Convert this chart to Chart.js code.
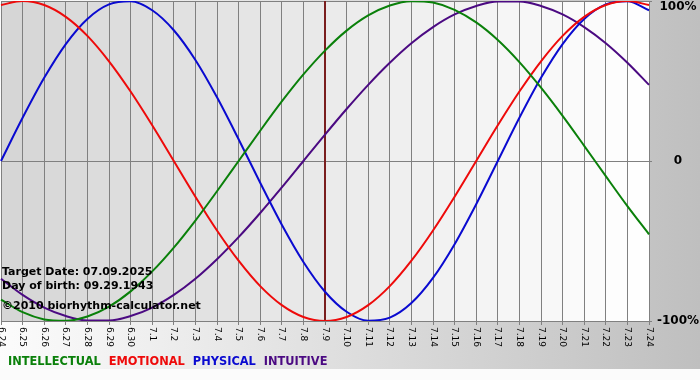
<!DOCTYPE html>
<html>
<head>
<meta charset="utf-8">
<script src="https://cdn.jsdelivr.net/npm/chart.js@4"></script>
<style>
  html, body { margin: 0; padding: 0; background: #fff; }
  canvas { display: block; }
</style>
</head>
<body>
<canvas id="bio" width="700" height="380"></canvas>
<script>
const days = ['6.24', '6.25', '6.26', '6.27', '6.28', '6.29', '6.30',
  '7.1', '7.2', '7.3', '7.4', '7.5', '7.6', '7.7', '7.8', '7.9', '7.10', '7.11', '7.12',
  '7.13', '7.14', '7.15', '7.16', '7.17', '7.18', '7.19', '7.20', '7.21', '7.22', '7.23', '7.24'];
const intellectual = [-86.6, -94.5, -99.0, -99.9, -97.2, -91.0, -81.5, -69.0, -54.1, -37.2, -18.9, 0,
  18.9, 37.2, 54.1, 69.0, 81.5, 91.0, 97.2, 99.9, 99.0, 94.5, 86.6, 75.6, 61.8, 45.8, 28.2, 9.5, -9.5, -28.2, -45.8];
const emotional = [97.5, 100, 97.5, 90.1, 78.2, 62.3, 43.4, 22.3, 0, -22.3, -43.4, -62.3, -78.2, -90.1, -97.5, -100,
  -97.5, -90.1, -78.2, -62.3, -43.4, -22.3, 0, 22.3, 43.4, 62.3, 78.2, 90.1, 97.5, 100, 97.5];
const physical = [0, 27, 52, 73.1, 88.8, 97.9, 99.8, 94.2, 81.7, 63.1, 39.8, 13.6, -13.6, -39.8, -63.1, -81.7,
  -94.2, -99.8, -97.9, -88.8, -73.1, -52, -27, 0, 27, 52, 73.1, 88.8, 97.9, 99.8, 94.2];
const intuitive = [-73.6, -83.7, -91.6, -96.9, -99.7, -99.7, -96.9, -91.6, -83.7, -73.6, -61.4, -47.6, -32.5, -16.5, 0,
  16.5, 32.5, 47.6, 61.4, 73.6, 83.7, 91.6, 96.9, 99.7, 99.7, 96.9, 91.6, 83.7, 73.6, 61.4, 47.6];
const yTicks = [100, 0, -100];
const yTickLabels = ['100%', '0', '-100%'];
const targetDay = '7.9';
const infoLines = ['Target Date: 07.09.2025', 'Day of birth: 09.29.1943', '\u00A92010 biorhythm-calculator.net'];

const FONT = '"DejaVu Sans", Verdana, sans-serif';

// background, shaded day columns and the target-day line
const backdrop = {
  id: 'backdrop',
  beforeDraw(chart) {
    const { ctx, chartArea: a, scales: { x } } = chart;
    ctx.save();
    const g = ctx.createLinearGradient(0, 0, chart.width, 0);
    g.addColorStop(0, '#fcfcfc');
    g.addColorStop(1, '#bfbfbf');
    ctx.fillStyle = g;
    ctx.fillRect(0, 0, chart.width, 369);
    ctx.fillStyle = '#fbfbfb';
    ctx.fillRect(0, 369, chart.width, chart.height - 369);
    const n = days.length - 1;
    for (let i = 0; i < n; i++) {
      const x0 = x.getPixelForValue(i), x1 = x.getPixelForValue(i + 1);
      const v = Math.round(214 + 40 * i / (n - 1));
      ctx.fillStyle = `rgb(${v},${v},${v})`;
      ctx.fillRect(x0, a.top, x1 - x0 + 0.5, a.bottom - a.top);
    }
    ctx.restore();
  },
  beforeDatasetsDraw(chart) {
    const { ctx, chartArea: a, scales: { x } } = chart;
    const tx = x.getPixelForValue(days.indexOf(targetDay));
    ctx.save();
    ctx.strokeStyle = '#7a1e1e';
    ctx.lineWidth = 2;
    ctx.beginPath();
    ctx.moveTo(tx, a.top);
    ctx.lineTo(tx, a.bottom);
    ctx.stroke();
    ctx.restore();
  }
};

// rotated day labels, right-hand percent labels, info text and legend
const labels = {
  id: 'labels',
  afterDraw(chart) {
    const { ctx, chartArea: a, scales: { x, y } } = chart;
    ctx.save();
    ctx.fillStyle = '#000';
    ctx.font = '9px ' + FONT;
    ctx.textAlign = 'left';
    ctx.textBaseline = 'middle';
    days.forEach((d, i) => {
      ctx.save();
      ctx.translate(x.getPixelForValue(i), a.bottom + 6);
      ctx.rotate(Math.PI / 2);
      ctx.fillText(d, 0, 0);
      ctx.restore();
    });

    ctx.font = 'bold 12px ' + FONT;
    ctx.textAlign = 'center';
    yTicks.forEach((t, i) => {
      const py = Math.max(y.getPixelForValue(t), 7);
      ctx.fillText(yTickLabels[i], a.right + 29, py);
    });

    ctx.font = 'bold 11px ' + FONT;
    ctx.textAlign = 'left';
    ctx.fillText(infoLines[0], 2, a.bottom - 49);
    ctx.fillText(infoLines[1], 2, a.bottom - 35);
    ctx.fillText(infoLines[2], 2, a.bottom - 15);

    ctx.font = 'bold 11.4px ' + FONT;
    let lx = 8;
    chart.data.datasets.forEach(ds => {
      const name = ds.label.toUpperCase();
      ctx.fillStyle = ds.borderColor;
      ctx.fillText(name, lx, 362);
      lx += ctx.measureText(name).width + 8;
    });
    ctx.restore();
  }
};

const ctx = document.getElementById('bio');
const bioChart = new Chart(ctx, {
  type: 'line',
  data: {
    labels: days,
    datasets: [
      { label: 'Intellectual', data: intellectual, borderColor: '#0a800a' },
      { label: 'Emotional', data: emotional, borderColor: '#ee0a0a' },
      { label: 'Physical', data: physical, borderColor: '#0a0ad0' },
      { label: 'Intuitive', data: intuitive, borderColor: '#4b0a82' }
    ]
  },
  options: {
    responsive: false,
    animation: false,
    layout: { padding: { left: 1, top: 1, right: 0, bottom: 0 } },
    elements: {
      point: { radius: 0 },
      line: { borderWidth: 2, cubicInterpolationMode: 'monotone', fill: false }
    },
    plugins: { legend: { display: false }, tooltip: { enabled: false } },
    scales: {
      x: {
        grid: { color: '#808080', lineWidth: 1, tickLength: 4 },
        border: { color: '#808080' },
        ticks: { display: false, autoSkip: false },
        afterFit: s => { s.height = 59; }
      },
      y: {
        position: 'right',
        min: -100,
        max: 100,
        grid: { color: '#808080', lineWidth: 1, tickLength: 3 },
        border: { color: '#808080' },
        ticks: { display: false, stepSize: 100 },
        afterFit: s => { s.width = 51; }
      }
    }
  },
  plugins: [backdrop, labels]
});
</script>
</body>
</html>
